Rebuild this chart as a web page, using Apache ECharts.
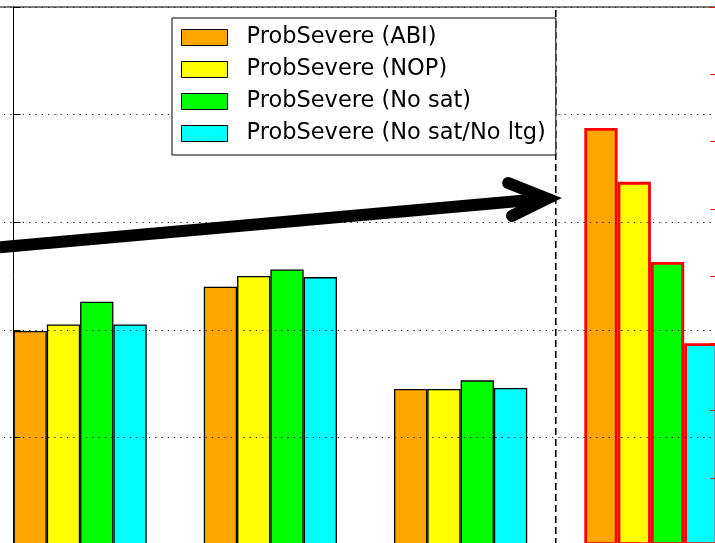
<!DOCTYPE html>
<html>
<head>
<meta charset="utf-8">
<script src="https://cdn.jsdelivr.net/npm/echarts@6/dist/echarts.min.js"></script>
<style>
  html, body { margin: 0; padding: 0; background: #fff; }
  #chart { width: 715px; height: 543px; }
</style>
</head>
<body>
<div id="chart"></div>
<script>
// Categories (group labels are not shown on the axis)
const groups = ['Group 1', 'Group 2', 'Group 3', 'Group 4'];

// Product names and fill colours
const seriesNames = ['ProbSevere (ABI)', 'ProbSevere (NOP)', 'ProbSevere (No sat)', 'ProbSevere (No sat/No ltg)'];
const fillColors = ['#ffa500', '#ffff00', '#00ff00', '#00ffff'];

// Left-axis values for the first three groups
const abiVals   = [0.199, 0.240, 0.145];
const nopVals   = [0.205, 0.250, 0.145];
const noSatVals = [0.226, 0.256, 0.153];
const noLtgVals = [0.205, 0.249, 0.146];

// Right-axis values for the last group (one per product)
const rightVals = [6.20, 5.40, 4.21, 3.00];

// Axis ranges
const leftMin = 0, leftMax = 0.5, leftStep = 0.1;
const rightMin = 0, rightMax = 8, rightStep = 1;

// Annotation: separator position and arrow path in (x, left-axis) units
const separatorX = 2.85;
const arrowShaft = [[-0.15, 0.2755], [2.805, 0.3220]];
const arrowHead = [[2.600, 0.3364], [2.805, 0.3220], [2.620, 0.3058]];

const leftSets = [abiVals, nopVals, noSatVals, noLtgVals];

const chart = echarts.init(document.getElementById('chart'), null, { renderer: 'canvas' });

const series = [];
leftSets.forEach((vals, i) => {
  series.push({
    name: seriesNames[i],
    type: 'bar',
    xAxisIndex: 0,
    yAxisIndex: 0,
    barWidth: '17.5%',
    barGap: '0%',
    data: vals.concat(['-']),
    itemStyle: { color: fillColors[i], borderColor: '#000', borderWidth: 1.3 },
    z: 2
  });
});
rightVals.forEach((v, i) => {
  const d = groups.map((g, k) => (k === groups.length - 1 ? v : '-'));
  series.push({
    name: seriesNames[i],
    type: 'bar',
    xAxisIndex: 2,
    yAxisIndex: 1,
    barWidth: '17.5%',
    barGap: '0%',
    data: d,
    itemStyle: { color: fillColors[i], borderColor: '#ff0000', borderWidth: 2.8 },
    z: 2
  });
});

// Dashed separator
series.push({
  type: 'line',
  xAxisIndex: 1,
  yAxisIndex: 0,
  data: [[separatorX, leftMin], [separatorX, leftMax]],
  symbol: 'none',
  silent: true,
  clip: false,
  lineStyle: { color: '#000', width: 1.6, type: [7, 4] },
  z: 6
});
// Arrow shaft
series.push({
  type: 'line',
  xAxisIndex: 1,
  yAxisIndex: 0,
  data: arrowShaft,
  symbol: 'none',
  silent: true,
  clip: false,
  lineStyle: { color: '#000', width: 12, cap: 'butt' },
  z: 7
});
// Arrow head
series.push({
  type: 'line',
  xAxisIndex: 1,
  yAxisIndex: 0,
  data: arrowHead,
  symbol: 'none',
  silent: true,
  clip: false,
  lineStyle: { color: '#000', width: 12, cap: 'round', join: 'miter', miterLimit: 10 },
  z: 7
});

const option = {
  animation: false,
  backgroundColor: '#fff',
  grid: {
    left: -15, right: -31, top: 7, bottom: -2,
    outerBoundsMode: 'none',
    show: true, borderColor: '#000', borderWidth: 1, backgroundColor: 'transparent'
  },
  legend: {
    orient: 'vertical',
    left: 172, top: 18,
    padding: [8, 10, 10, 9],
    itemWidth: 46, itemHeight: 16, itemGap: 9,
    backgroundColor: '#fff',
    borderColor: '#000', borderWidth: 1,
    selectedMode: false,
    icon: 'rect',
    textStyle: {
      fontFamily: 'DejaVu Sans', fontSize: 22.5, lineHeight: 22, color: '#000',
      padding: [0, 0, 0, 14]
    },
    data: seriesNames.map((n, i) => ({
      name: n,
      itemStyle: { color: fillColors[i], borderColor: '#000', borderWidth: 1 }
    })),
    z: 10
  },
  xAxis: [
    { type: 'category', data: groups, show: false, boundaryGap: true },
    { type: 'value', min: -0.15, max: 3.85, show: false },
    { type: 'category', data: groups, show: false, boundaryGap: true }
  ],
  yAxis: [
    {
      type: 'value', position: 'left', offset: -28.5,
      min: leftMin, max: leftMax, interval: leftStep,
      z: 3,
      axisLine: { show: true, lineStyle: { color: '#000', width: 1 } },
      axisTick: { show: true, inside: true, length: 7, lineStyle: { color: '#000', width: 1 } },
      axisLabel: { show: false },
      splitLine: { show: true, lineStyle: { color: '#222', width: 1, type: [1.3, 5] } }
    },
    {
      type: 'value', position: 'right', offset: -28.5,
      min: rightMin, max: rightMax, interval: rightStep,
      z: 3,
      axisLine: { show: true, lineStyle: { color: '#000', width: 1 } },
      axisTick: { show: true, inside: true, length: 7, lineStyle: { color: '#ff0000', width: 1 } },
      axisLabel: { show: false },
      splitLine: { show: false }
    }
  ],
  series: series
};

chart.setOption(option);
</script>
</body>
</html>
